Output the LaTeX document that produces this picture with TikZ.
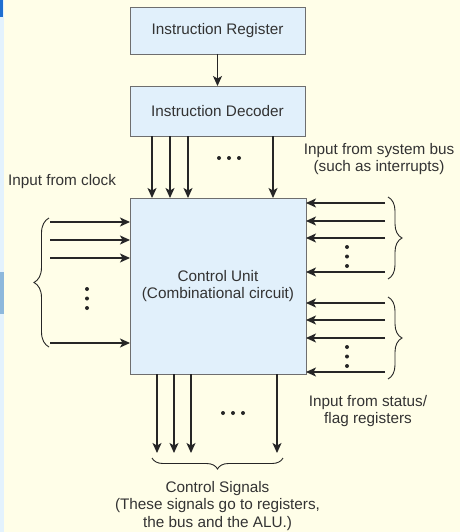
\documentclass[tikz,border=0pt]{standalone}
\usepackage{fontspec}
\setmainfont{Liberation Sans}
\usetikzlibrary{arrows.meta,decorations.pathreplacing}
\definecolor{bgc}{HTML}{FFFEE8}
\definecolor{boxc}{HTML}{E1F0FB}
\definecolor{edgec}{HTML}{6E6E6E}
\definecolor{linec}{HTML}{262626}
\definecolor{txtc}{HTML}{333333}
\definecolor{stripc}{HTML}{E3F2FD}
\definecolor{darkb}{HTML}{1F6FD0}
\definecolor{midb}{HTML}{8DB8DC}
\begin{document}
\begin{tikzpicture}[x=1pt,y=-1pt,
  every node/.style={font=\fontsize{15.3}{17.5}\selectfont, text=txtc},
  blk/.style={draw=edgec, line width=0.9pt, fill=boxc, inner sep=0pt, outer sep=0pt, align=center},
  arr/.style={draw=linec, line width=1.1pt, -{Stealth[length=10pt,width=9pt,inset=2.5pt]}},
  brc/.style={draw=linec, line width=0.9pt, decorate, decoration={brace, amplitude=#1}},
  lbl/.style={align=center, inner sep=0pt},
  dot/.style={fill=linec, draw=none}
]
% background
\fill[bgc] (0,0) rectangle (460,532);
\fill[stripc] (0,0) rectangle (3.5,532);
\fill[darkb] (0,0) rectangle (3.3,17);
\fill[midb] (0,272) rectangle (4,314);
\useasboundingbox (0,0) rectangle (460,532);

% boxes
\node[blk, minimum width=175pt, minimum height=47pt] (ir) at (217.5,30.5) {Instruction Register};
\node[blk, minimum width=175pt, minimum height=50pt] (dec) at (217.5,111) {Instruction Decoder};
\node[blk, minimum width=176pt, minimum height=176pt] (cu) at (218,286) {Control Unit\\(Combinational circuit)};

\draw[arr] (ir) -- (dec);

% decoder -> control unit
\foreach \n/\x in {1/152,2/170,3/188,4/273}{
  \coordinate (d\n) at (\x,0);
  \draw[arr] (d\n |- dec.south) -- (d\n |- cu.north);
}
\foreach \x in {219,229,239} \fill[dot] (\x,158) circle (2pt);

% clock inputs (left)
\foreach \n/\y in {1/222,2/240,3/258,4/343}{
  \coordinate (l\n) at (50,\y);
  \draw[arr] (l\n) -- (l\n -| cu.west);
}
\foreach \y in {289,298.5,308} \fill[dot] (87,\y) circle (2pt);
\draw[brc=15pt] (49,347) -- (49,218);

% system bus inputs (right top)
\foreach \n/\y in {1/203,2/221,3/238,4/272}{
  \coordinate (r\n) at (385,\y);
  \draw[arr] (r\n) -- (r\n -| cu.east);
}
\foreach \y in {247,256.5,266} \fill[dot] (347,\y) circle (2pt);
\draw[brc=14pt] (388,197) -- (388,279);

% status inputs (right bottom)
\foreach \n/\y in {1/303,2/320,3/338,4/372}{
  \coordinate (s\n) at (385,\y);
  \draw[arr] (s\n) -- (s\n -| cu.east);
}
\foreach \y in {347,356.5,366} \fill[dot] (347,\y) circle (2pt);
\draw[brc=14pt] (388,297) -- (388,379);

% control signal outputs
\foreach \n/\x in {1/157,2/174,3/191,4/277}{
  \coordinate (b\n) at (\x,453);
  \draw[arr] (b\n |- cu.south) -- (b\n);
}
\foreach \x in {223,233,243} \fill[dot] (\x,413) circle (2pt);
\draw[brc=11pt] (283,458) -- (152,458);

% labels
\node[lbl] (tbus) at (379,159) {Input from system bus\\(such as interrupts)};
\node[lbl] (tclk) at (62,182) {Input from clock};
\node[lbl] (tstat) at (368,411) {Input from status/\\flag registers};
\node[lbl] (tsig) at (217.5,506) {Control Signals\\(These signals go to registers,\\the bus and the ALU.)};
\end{tikzpicture}
\end{document}
